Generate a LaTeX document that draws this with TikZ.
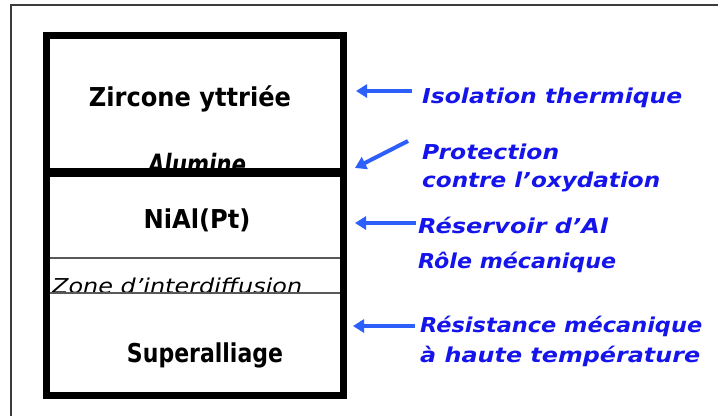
\documentclass[tikz,border=0pt]{standalone}
\usepackage{fontspec}
\usepackage{graphicx}
\setmainfont{DejaVu Sans}
\usetikzlibrary{arrows.meta}
\definecolor{txtblue}{RGB}{20,20,235}
\definecolor{arrblue}{RGB}{45,95,250}
\definecolor{frame}{RGB}{60,60,60}
\newcommand{\fitw}[2]{\resizebox{#1pt}{\height}{#2}}
\begin{document}
\begin{tikzpicture}[x=1pt,y=-1pt,
  blk/.style={inner sep=0pt,font=\fontsize{26}{28}\selectfont\bfseries,text=black},
  blkit/.style={inner sep=0pt,font=\fontsize{28}{30}\selectfont\bfseries\itshape,text=black},
  zone/.style={inner sep=0pt,font=\fontsize{20.5}{24}\selectfont\itshape,text=black},
  lbl/.style={inner sep=0pt,anchor=base west,font=\fontsize{20.5}{22}\selectfont\bfseries\itshape,text=txtblue},
  arr/.style={draw=arrblue,line width=4pt,-{Triangle[length=11pt,width=13pt]}},
  thick line/.style={line width=7pt},
  mid line/.style={line width=9pt},
  thin line/.style={draw=black!65,line width=1.3pt}]
\useasboundingbox (0,0) rectangle (718,416);
\fill[white] (0,0) rectangle (718,416);
% outer frame
\draw[frame,line width=1.4pt] (11,416) -- (11,5) -- (718,5);
% texts inside
\node[blk,anchor=base] (zirc) at (190,106) {\fitw{202}{Zircone yttriée}};
\node[blkit,anchor=base] (alu) at (197,174) {\fitw{98}{Alumine}};
\node[blk,anchor=base] (nial) at (197,228) {\fitw{107}{NiAl(Pt)}};
\node[zone,anchor=base west] (zone) at (52,293) {\fitw{250}{Zone d'interdiffusion}};
\node[blk,anchor=base] (super) at (205,362) {\fitw{156}{Superalliage}};
% box
\draw[thick line] (46,35) rectangle (343.5,395);
\draw[mid line] (46,172) -- (343.5,172);
\draw[thin line] (49.5,258) -- (340,258);
\draw[thin line] (49.5,293) -- (340,293);
% labels
\node[lbl] (iso) at (422,103) {\fitw{260}{Isolation thermique}};
\node[lbl] (prot) at (422,159) {\fitw{137}{Protection}};
\node[lbl] (oxy) at (422,187) {\fitw{238}{contre l’oxydation}};
\node[lbl] (res) at (418,233) {\fitw{190}{Réservoir d’Al}};
\node[lbl] (role) at (418,268) {\fitw{198}{Rôle mécanique}};
\node[lbl] (resi) at (420,332) {\fitw{282}{Résistance mécanique}};
\node[lbl] (haute) at (420,362) {\fitw{280}{à haute température}};
% arrows
\coordinate (a1s) at (412,91);  \coordinate (a1e) at (356,91);
\coordinate (a2s) at (408,141); \coordinate (a2e) at (355,168);
\coordinate (a3s) at (416,223); \coordinate (a3e) at (355,223);
\coordinate (a4s) at (415,326); \coordinate (a4e) at (353,326);
\draw[arr] (a1s) -- (a1e);
\draw[arr] (a2s) -- (a2e);
\draw[arr,line width=3.5pt] (a3s) -- (a3e);
\draw[arr,line width=3.5pt] (a4s) -- (a4e);
\end{tikzpicture}
\end{document}
